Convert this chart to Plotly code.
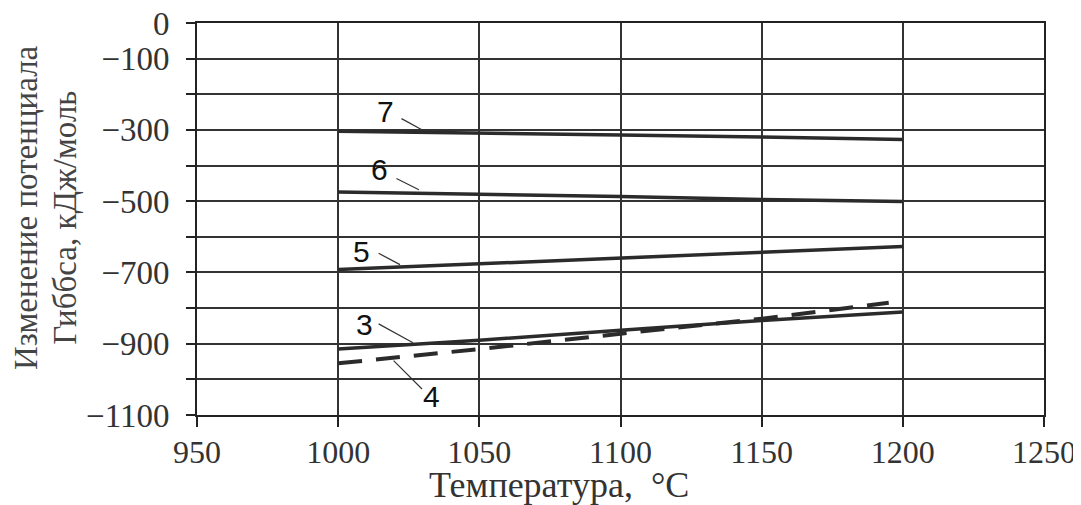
import plotly.graph_objects as go

# ---- data ----
temp = [1000, 1050, 1100, 1150, 1200]
g7 = [-304, -308, -314, -320, -327]
g6 = [-474, -480, -487, -495, -501]
g5 = [-692, -676, -660, -643, -627]
g3 = [-915, -890, -862, -835, -811]
temp4 = [1000, 1050, 1100, 1150, 1195]
g4 = [-955, -915, -872, -830, -785]

x_ticks = [950, 1000, 1050, 1100, 1150, 1200, 1250]
y_ticks = [0, -100, -200, -300, -400, -500, -600, -700, -800, -900, -1000, -1100]
y_labels = ["0", "−100", "", "−300", "", "−500", "", "−700", "", "−900", "", "−1100"]

# curve labels: (text, text x, text y, leader start x, y, leader end x, y)
curve_labels = [
    ("7", 1016.6, -249, 1021.9, -266, 1029.8, -300),
    ("6", 1014.5, -411, 1020.1, -434, 1028.6, -468),
    ("5", 1008.4, -641, 1013.8, -644, 1021.9, -678),
    ("3", 1009.5, -845, 1013.8, -842, 1026.5, -897),
    ("4", 1033.2, -1047, 1019.1, -943, 1029.7, -1027),
]

LINE = "#2b2b2b"
fig = go.Figure()
for ys in (g7, g6, g5, g3):
    fig.add_trace(go.Scatter(x=temp, y=ys, mode="lines",
                             line=dict(color=LINE, width=3.5), showlegend=False))
fig.add_trace(go.Scatter(x=temp4, y=g4, mode="lines",
                         line=dict(color=LINE, width=4, dash="24px,14px"), showlegend=False))

for t, tx, ty, sx, sy, ex, ey in curve_labels:
    fig.add_annotation(x=tx, y=ty, text=t, showarrow=False,
                       font=dict(family="Liberation Sans", size=30, color="#111"))
    fig.add_annotation(x=ex, y=ey, ax=sx, ay=sy, axref="x", ayref="y", text="",
                       showarrow=True, arrowhead=0, arrowwidth=1.2, arrowcolor="#333")

# y-axis title (two lines)
fig.add_annotation(xref="paper", yref="paper", x=0, y=0.528, xshift=-171,
                   xanchor="center", yanchor="middle",
                   text="Изменение потенциала", textangle=-90, showarrow=False,
                   font=dict(family="Liberation Serif", size=33, color="#444"))
fig.add_annotation(xref="paper", yref="paper", x=0, y=0.503, xshift=-132,
                   xanchor="center", yanchor="middle",
                   text="Гиббса, кДж/моль", textangle=-90, showarrow=False,
                   font=dict(family="Liberation Serif", size=33, color="#444"))
# x-axis title
fig.add_annotation(xref="paper", yref="paper", x=0, y=0, xshift=559 - 197, yshift=-70,
                   xanchor="center", yanchor="middle",
                   text="Температура,\u00a0\u00a0°С", showarrow=False,
                   font=dict(family="Liberation Serif", size=36, color="#333"))

ytickfont = dict(family="Liberation Serif", size=33, color="#333")
xtickfont = dict(family="Liberation Serif", size=32, color="#333")
fig.update_layout(
    width=1081, height=497,
    margin=dict(l=189, r=45, t=15, b=90, autoexpand=False),
    paper_bgcolor="white", plot_bgcolor="white",
    xaxis=dict(range=[950, 1250], tickvals=x_ticks, ticktext=[str(v) for v in x_ticks],
               showgrid=True, gridcolor="#333", gridwidth=1.6,
               showline=True, linecolor="#222", linewidth=1.8, mirror=True,
               ticks="outside", ticklen=10, tickwidth=1.6, tickcolor="#222",
               tickfont=xtickfont, zeroline=False, automargin=False,
               ticklabeloverflow="allow", ticklabelstandoff=-2),
    yaxis=dict(range=[-1100, 0], tickvals=y_ticks, ticktext=y_labels,
               showgrid=True, gridcolor="#333", gridwidth=1.6,
               showline=True, linecolor="#222", linewidth=1.8, mirror=True,
               ticks="outside", ticklen=9, tickwidth=1.6, tickcolor="#222",
               tickfont=ytickfont, zeroline=False, ticklabelstandoff=10, automargin=False,
               ticklabeloverflow="allow"),
)

fig.write_html("out.html")
